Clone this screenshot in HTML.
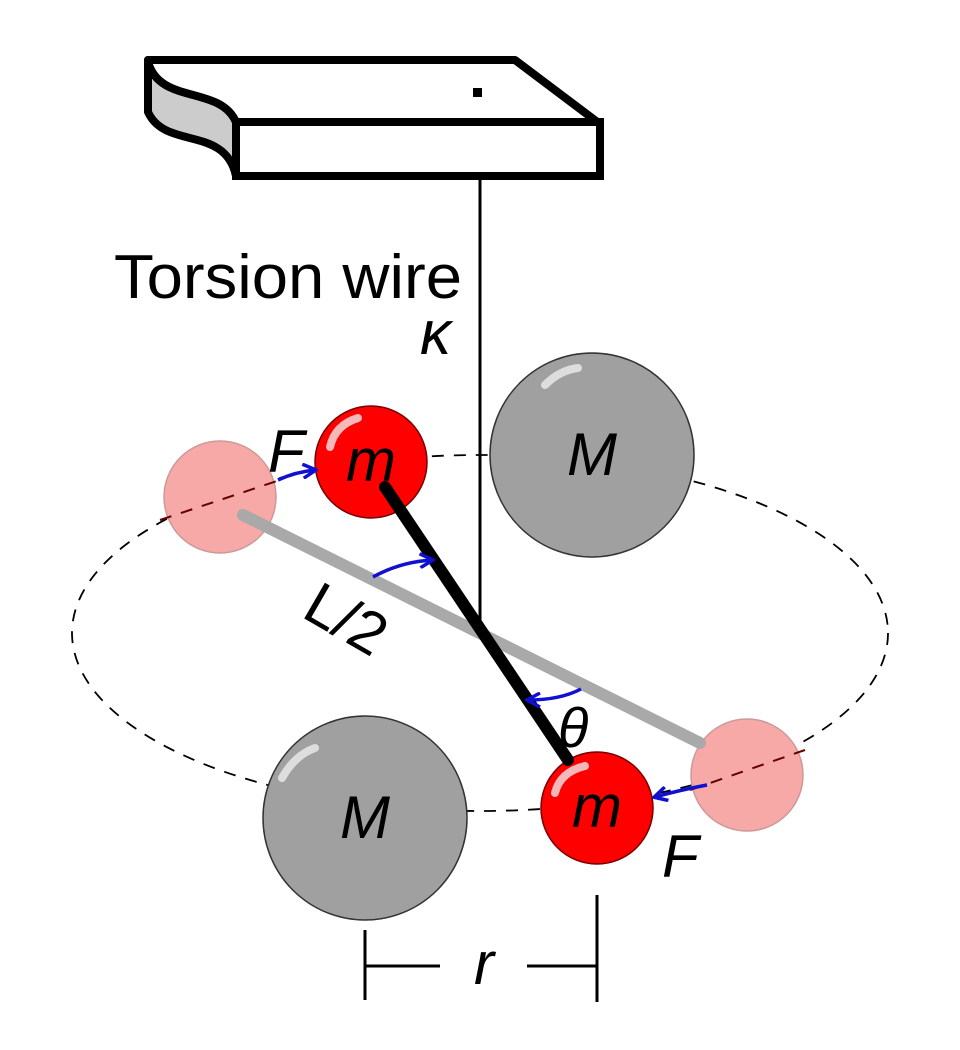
<!DOCTYPE html>
<html><head><meta charset="utf-8"><style>html,body{margin:0;padding:0;background:#fff}svg{display:block}</style></head><body>
<svg width="960" height="1050" viewBox="0 0 960 1050" xmlns="http://www.w3.org/2000/svg" font-family="Liberation Sans, sans-serif">
<defs><marker id="ah" markerWidth="16" markerHeight="16" refX="13" refY="8" orient="auto" markerUnits="userSpaceOnUse"><path d="M1,1 L14,8 L1,15" fill="none" stroke="#1010d0" stroke-width="3.5"/></marker></defs>
<path d="M148,60 L148,112 C165,150 225,125 236,176 L236,122 C220,85 160,105 148,62 Z" fill="#ccc" stroke="#000" stroke-width="8" stroke-linejoin="round"/>
<path d="M148,60 L515,60 L600,124 L236,122 C220,85 160,105 148,62 Z" fill="#fff" stroke="#000" stroke-width="8" stroke-linejoin="round"/>
<rect x="236" y="122" width="364" height="54" fill="#fff" stroke="#000" stroke-width="8"/>
<rect x="473" y="88" width="9" height="9" fill="#000"/>
<line x1="480" y1="178" x2="480" y2="632" stroke="#000" stroke-width="3"/>
<ellipse cx="480" cy="633" rx="408" ry="178" fill="none" stroke="#000" stroke-width="1.8" stroke-dasharray="12,10"/>
<circle cx="592" cy="455" r="102" fill="#a0a0a0" stroke="#333" stroke-width="1.5"/>
<path d="M545,385 Q560,370 578,368" stroke="#ddd" stroke-width="8" fill="none" stroke-linecap="round"/>
<circle cx="365" cy="818" r="102" fill="#a0a0a0" stroke="#333" stroke-width="1.5"/>
<path d="M282,778 Q295,755 315,748" stroke="#ddd" stroke-width="8" fill="none" stroke-linecap="round"/>
<circle cx="220" cy="497" r="56" fill="#f7a9a8" stroke="#c99" stroke-width="1.5"/>
<circle cx="747" cy="775" r="56" fill="#f7a9a8" stroke="#c99" stroke-width="1.5"/>
<line x1="160" y1="520" x2="280" y2="480" stroke="#600" stroke-width="2" stroke-dasharray="12,10"/>
<line x1="690" y1="790" x2="805" y2="750" stroke="#600" stroke-width="2" stroke-dasharray="12,10"/>
<line x1="243" y1="515" x2="700" y2="743" stroke="#a9a9a9" stroke-width="12" stroke-linecap="round"/>
<circle cx="371" cy="462" r="56" fill="#f00" stroke="#700" stroke-width="1.5"/>
<path d="M330,447 Q335,425 358,418" stroke="#f4b8b8" stroke-width="8" fill="none" stroke-linecap="round"/>
<circle cx="597" cy="808" r="56" fill="#f00" stroke="#700" stroke-width="1.5"/>
<path d="M555,793 Q560,772 585,766" stroke="#f4b8b8" stroke-width="8" fill="none" stroke-linecap="round"/>
<line x1="385" y1="487" x2="568" y2="760" stroke="#000" stroke-width="12" stroke-linecap="round"/>
<path d="M278,480 Q295,472 315,470" stroke="#1010d0" stroke-width="3.5" fill="none" marker-end="url(#ah)"/>
<path d="M373,577 Q400,562 432,560" stroke="#1010d0" stroke-width="3.5" fill="none" marker-end="url(#ah)"/>
<path d="M581,689 Q560,700 528,700" stroke="#1010d0" stroke-width="3.5" fill="none" marker-end="url(#ah)"/>
<path d="M707,785 Q680,790 655,797" stroke="#1010d0" stroke-width="3.5" fill="none" marker-end="url(#ah)"/>
<text x="114" y="298" font-size="62" textLength="348" lengthAdjust="spacingAndGlyphs">Torsion wire</text>
<text x="420" y="354" font-size="62" font-style="italic">κ</text>
<text x="268" y="472" font-size="60" font-style="italic">F</text>
<text x="371" y="481" font-size="60" font-style="italic" text-anchor="middle">m</text>
<text x="597" y="827" font-size="60" font-style="italic" text-anchor="middle">m</text>
<text x="592" y="475" font-size="60" font-style="italic" text-anchor="middle">M</text>
<text x="365" y="838" font-size="60" font-style="italic" text-anchor="middle">M</text>
<text x="0" y="0" font-size="60" transform="translate(300,616) rotate(30)">L/2</text>
<text x="558" y="747" font-size="56" font-style="italic">θ</text>
<text x="662" y="877" font-size="60" font-style="italic">F</text>
<text x="484" y="984" font-size="60" font-style="italic" text-anchor="middle">r</text>
<g stroke="#000" stroke-width="3">
<line x1="365" y1="930" x2="365" y2="1000"/>
<line x1="597" y1="895" x2="597" y2="1002"/>
<line x1="365" y1="966" x2="440" y2="966"/>
<line x1="527" y1="966" x2="597" y2="966"/>
</g>
</svg>
</body></html>
